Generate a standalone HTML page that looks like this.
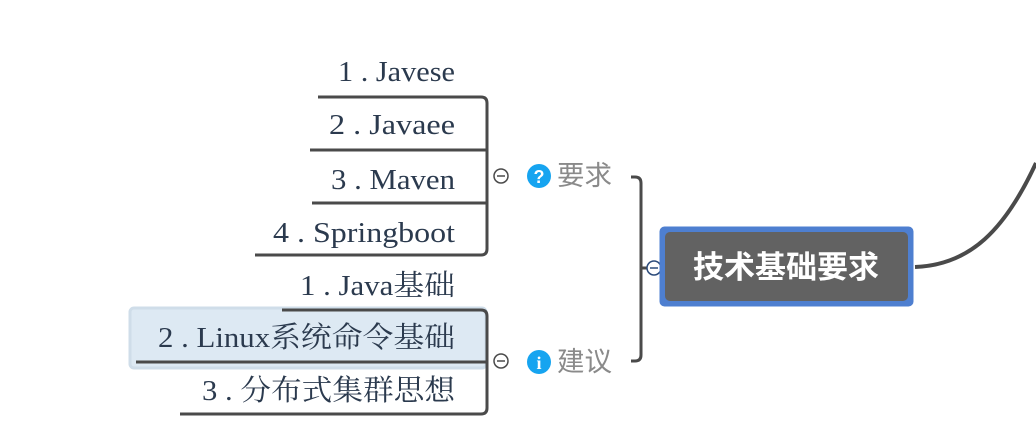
<!DOCTYPE html>
<html><head><meta charset="utf-8"><style>
html,body{margin:0;padding:0;background:#fff;}
svg{display:block}
.s{font-family:"Liberation Serif","Noto Serif CJK SC",serif;font-size:29px;fill:#2b3a4e;}
.g{font-family:"Liberation Sans","Noto Sans CJK SC",sans-serif;font-size:27px;fill:#8a8a8a;}
</style></head><body>
<svg width="1036" height="442" viewBox="0 0 1036 442" xmlns="http://www.w3.org/2000/svg">
<rect x="130" y="308" width="356" height="60" rx="4" fill="#dde9f3" stroke="#cfdde9" stroke-width="3"/>
<g fill="none" stroke="#4a4a4a" stroke-width="3">
<path d="M318 97 H481 Q487 97 487 103 V249 Q487 255 481 255 H255"/>
<path d="M310 150 H487"/>
<path d="M312 203 H487"/>
<path d="M282 310 H481 Q487 310 487 316 V408 Q487 414 481 414 H180"/>
<path d="M136 362 H487"/>
<path d="M631 177 H635 Q641 177 641 183 V355 Q641 361 635 361 H631"/>
<path d="M641 268 H658"/>
<path d="M915 267 C970 265 1005 230 1036 163" stroke-width="4"/>
</g>
<g fill="#fff" stroke="#4a4a4a" stroke-width="1.5">
<circle cx="501" cy="176" r="7"/><path d="M497 176 H505"/>
<circle cx="501" cy="361" r="7"/><path d="M497 361 H505"/>
<circle cx="654" cy="268" r="7" stroke="#2b4a7a"/><path d="M650 268 H658" stroke="#2b4a7a"/>
</g>
<circle cx="539" cy="176" r="12" fill="#16a4f0"/>
<text x="539" y="183" text-anchor="middle" font-family="Liberation Sans,sans-serif" font-weight="bold" font-size="18" fill="#fff">?</text>
<circle cx="539" cy="362" r="12" fill="#16a4f0"/>
<text x="539" y="369" text-anchor="middle" font-family="Liberation Serif,serif" font-weight="bold" font-size="18" fill="#fff">i</text>
<text class="g" x="557" y="185" textLength="55" lengthAdjust="spacingAndGlyphs">要求</text>
<text class="g" x="557" y="371" textLength="55" lengthAdjust="spacingAndGlyphs">建议</text>
<g class="s">
<text x="338" y="81" textLength="117" lengthAdjust="spacingAndGlyphs">1 . Javese</text>
<text x="329" y="134" textLength="126" lengthAdjust="spacingAndGlyphs">2 . Javaee</text>
<text x="331" y="189" textLength="124" lengthAdjust="spacingAndGlyphs">3 . Maven</text>
<text x="273" y="242" textLength="182" lengthAdjust="spacingAndGlyphs">4 . Springboot</text>
<text x="300" y="295" textLength="155" lengthAdjust="spacingAndGlyphs">1 . Java基础</text>
<text x="158" y="347" textLength="297" lengthAdjust="spacingAndGlyphs">2 . Linux系统命令基础</text>
<text x="202" y="400" textLength="253" lengthAdjust="spacingAndGlyphs">3 . 分布式集群思想</text>
</g>
<rect x="659.5" y="226.5" width="254" height="80" rx="5" fill="#4e7fd0"/>
<rect x="665" y="232" width="243" height="69" rx="5" fill="#626262"/>
<text x="786" y="278" text-anchor="middle" font-family="Liberation Sans,'Noto Sans CJK SC',sans-serif" font-weight="bold" font-size="31" fill="#fff">技术基础要求</text>
</svg>
</body></html>
